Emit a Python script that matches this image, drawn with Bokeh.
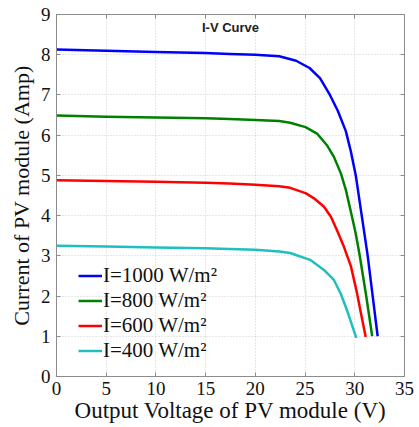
from bokeh.plotting import figure
from bokeh.models import Range1d, Legend, LegendItem, Label, LinearAxis, FixedTicker
from bokeh.embed import file_html
from bokeh.resources import INLINE

# Data
v_1000 = [0, 5, 10, 15, 17.4, 20, 22.4, 24.1, 25.45, 26.5, 27.5, 28.3, 29.1, 29.6, 30.1, 30.7, 31.3, 31.8, 32.3]
i_1000 = [8.13, 8.10, 8.07, 8.04, 8.02, 8.00, 7.96, 7.85, 7.67, 7.42, 7.00, 6.60, 6.10, 5.60, 5.00, 4.00, 3.00, 2.00, 1.00]

v_800 = [0, 5, 10, 15, 17.4, 20, 22.4, 23.5, 25.05, 26.2, 27.2, 27.9, 28.6, 29.1, 29.6, 30.1, 30.5, 31.15, 31.75]
i_800 = [6.49, 6.46, 6.44, 6.42, 6.40, 6.38, 6.35, 6.31, 6.20, 6.04, 5.75, 5.46, 5.05, 4.64, 4.10, 3.55, 3.00, 2.00, 1.00]

v_600 = [0, 5, 10, 15, 17.4, 20, 22.4, 23.5, 25.05, 25.9, 26.9, 27.6, 28.2, 28.9, 29.6, 30.2, 30.6, 31.1]
i_600 = [4.88, 4.86, 4.84, 4.82, 4.80, 4.77, 4.73, 4.69, 4.56, 4.43, 4.22, 3.97, 3.64, 3.23, 2.75, 2.10, 1.60, 0.98]

v_400 = [0, 5, 10, 15, 17.4, 20, 22.4, 23.5, 25.5, 26.9, 27.9, 28.6, 29.3, 30.15]
i_400 = [3.25, 3.23, 3.21, 3.19, 3.17, 3.15, 3.11, 3.07, 2.90, 2.65, 2.40, 2.05, 1.59, 0.96]

series_labels = ["I=1000 W/m\u00b2", "I=800 W/m\u00b2", "I=600 W/m\u00b2", "I=400 W/m\u00b2"]
series_colors = ["#0000ff", "#008000", "#ff0000", "#1fbfbf"]

x_ticks = [0, 5, 10, 15, 20, 25, 30, 35]
y_ticks = [0, 1, 2, 3, 4, 5, 6, 7, 8, 9]

title_text = "I-V Curve"
x_label = "Output Voltage of PV module (V)"
y_label = "Current of PV module (Amp)"

SERIF = "Liberation Serif"

p = figure(width=417, height=425, output_backend="svg", toolbar_location=None,
           x_range=Range1d(0, 35), y_range=Range1d(0, 9),
           min_border_left=56, min_border_right=13, min_border_top=14, min_border_bottom=48)
p.background_fill_color = "white"
p.border_fill_color = "white"
p.outline_line_color = "#8c8c8c"
p.outline_line_width = 1

for ax, ticks in ((p.xaxis[0], x_ticks), (p.yaxis[0], y_ticks)):
    ax.ticker = FixedTicker(ticks=ticks)
    ax.major_label_text_font = SERIF
    ax.major_label_text_font_size = "19px"
    ax.major_label_text_color = "#111111"
    ax.axis_label_text_font = SERIF
    ax.axis_label_text_font_style = "normal"
    ax.axis_label_text_color = "#111111"
    ax.axis_line_color = "#8c8c8c"
    ax.major_tick_line_color = "#8c8c8c"
    ax.major_tick_in = 4
    ax.major_tick_out = 0
    ax.minor_tick_line_color = None

p.xaxis[0].axis_label = x_label
p.yaxis[0].axis_label = y_label
p.xaxis[0].axis_label_text_font_size = "23px"
p.yaxis[0].axis_label_text_font_size = "22px"
p.xaxis[0].major_label_standoff = 5
p.xaxis[0].axis_label_standoff = 0
p.yaxis[0].major_label_standoff = 6
p.yaxis[0].axis_label_standoff = 4

# ticks on top and right
top = LinearAxis(ticker=FixedTicker(ticks=x_ticks), major_label_text_font_size="0px",
                 major_tick_in=4, major_tick_out=0, minor_tick_line_color=None,
                 axis_line_color="#8c8c8c", major_tick_line_color="#8c8c8c")
right = LinearAxis(ticker=FixedTicker(ticks=y_ticks), major_label_text_font_size="0px",
                   major_tick_in=4, major_tick_out=0, minor_tick_line_color=None,
                   axis_line_color="#8c8c8c", major_tick_line_color="#8c8c8c")
top.major_label_overrides = {t: "" for t in x_ticks}
right.major_label_overrides = {t: "" for t in y_ticks}
p.add_layout(top, "above")
p.add_layout(right, "right")

p.xgrid.ticker = FixedTicker(ticks=x_ticks)
p.ygrid.ticker = FixedTicker(ticks=y_ticks)
for g in (p.xgrid[0], p.ygrid[0]):
    g.grid_line_color = "#cfcfcf"
    g.grid_line_dash = "1 2"
    g.grid_line_width = 1

renderers = []
for vs, cs, col in ((v_1000, i_1000, series_colors[0]), (v_800, i_800, series_colors[1]),
                    (v_600, i_600, series_colors[2]), (v_400, i_400, series_colors[3])):
    r = p.line(vs, cs, line_color=col, line_width=2.5, line_join="round")
    renderers.append(r)

legend = Legend(items=[LegendItem(label=lab, renderers=[r]) for lab, r in zip(series_labels, renderers)],
                location=(22, 13), orientation="vertical",
                label_text_font=SERIF, label_text_font_size="21px", label_text_color="#111111",
                glyph_width=24, glyph_height=23, label_height=23, label_standoff=1,
                spacing=-1, padding=0, margin=0,
                border_line_color=None, background_fill_alpha=0)
p.add_layout(legend, "center")

p.add_layout(Label(x=17.5, y=8.67, text=title_text, text_font="Liberation Sans",
                   text_font_size="13px", text_font_style="bold", text_align="center",
                   text_baseline="middle", text_color="#222222"))

open("out.html", "w").write(file_html(p, INLINE))
